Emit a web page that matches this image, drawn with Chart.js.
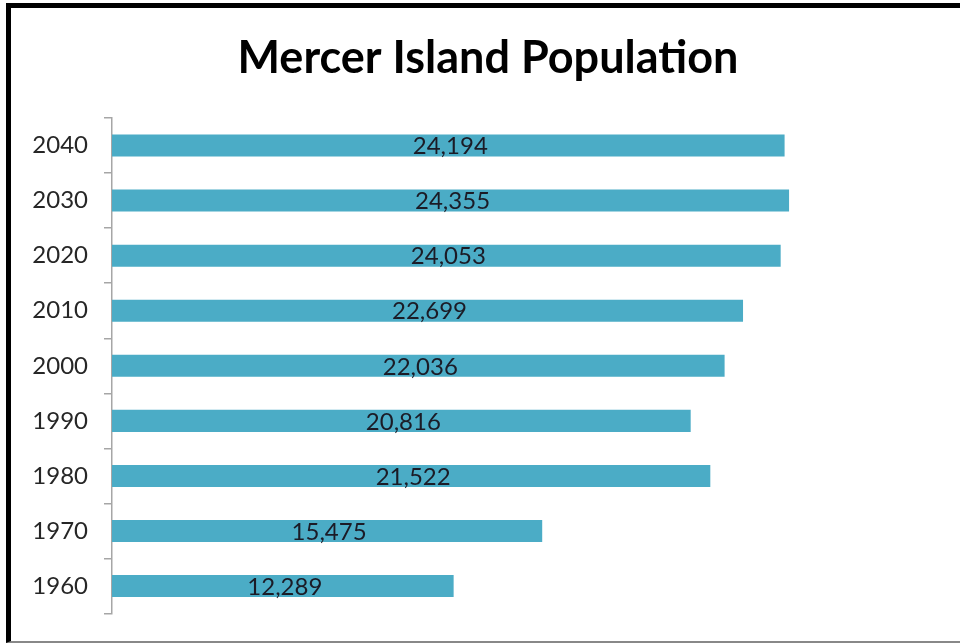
<!DOCTYPE html>
<html>
<head>
<meta charset="utf-8">
<script src="https://cdn.jsdelivr.net/npm/chart.js@4.4.1/dist/chart.umd.min.js"></script>
<style>
  html, body { margin: 0; padding: 0; background: #fff; overflow: hidden; }
  #frame {
    position: absolute; left: 6px; top: 3px; width: 1000px; height: 640px;
    box-sizing: border-box;
    border-top: 5px solid #000; border-left: 5px solid #000; border-bottom: 2px solid #888;
  }
  #wrap { position: absolute; left: 0; top: 0; width: 960px; height: 644px; }
</style>
</head>
<body>
<div id="frame"></div>
<div id="wrap"><canvas id="popChart"></canvas></div>
<script>
// Mercer Island population by decade
const years = ['1960', '1970', '1980', '1990', '2000', '2010', '2020', '2030', '2040'];
const population = [12289, 15475, 21522, 20816, 22036, 22699, 24053, 24355, 24194];

const barColor = '#4BACC6';
const textFont = 'Lato, "Open Sans", sans-serif';

// draw value inside the middle of each bar
const barLabels = {
  id: 'barLabels',
  afterDatasetsDraw(chart) {
    const ctx = chart.ctx;
    const meta = chart.getDatasetMeta(0);
    ctx.save();
    ctx.font = '24px ' + textFont;
    ctx.fillStyle = '#1b1b26';
    ctx.textAlign = 'center';
    ctx.textBaseline = 'middle';
    meta.data.forEach((bar, i) => {
      const v = chart.data.datasets[0].data[i];
      ctx.fillText(v.toLocaleString('en-US'), (bar.x + bar.base) / 2 + 2, bar.y + 1);
    });
    ctx.restore();
  }
};

const popChart = new Chart(document.getElementById('popChart').getContext('2d'), {
  type: 'bar',
  data: {
    labels: years,
    datasets: [{
      data: population,
      backgroundColor: barColor,
      barPercentage: 0.4,
      categoryPercentage: 1
    }]
  },
  options: {
    indexAxis: 'y',
    responsive: true,
    maintainAspectRatio: false,
    animation: false,
    layout: { padding: { left: 30, right: 14, top: 31, bottom: 21 } },
    plugins: {
      legend: { display: false },
      tooltip: { enabled: false },
      title: {
        display: true,
        text: 'Mercer Island Population',
        color: '#000',
        font: { family: textFont, size: 45, weight: 'bold' },
        padding: { top: 0, bottom: 33 }
      }
    },
    scales: {
      x: { display: false, min: 0, max: 30000 },
      y: {
        reverse: true,
        offset: true,
        afterFit: (scale) => { scale.width = 82; },
        grid: { drawOnChartArea: false, offset: true, tickLength: 8, color: '#a6a6a6', lineWidth: 1.5 },
        border: { color: '#a6a6a6', width: 1.5 },
        ticks: { color: '#262626', padding: 16, font: { family: textFont, size: 24 } }
      }
    }
  },
  plugins: [barLabels]
});
</script>
</body>
</html>
